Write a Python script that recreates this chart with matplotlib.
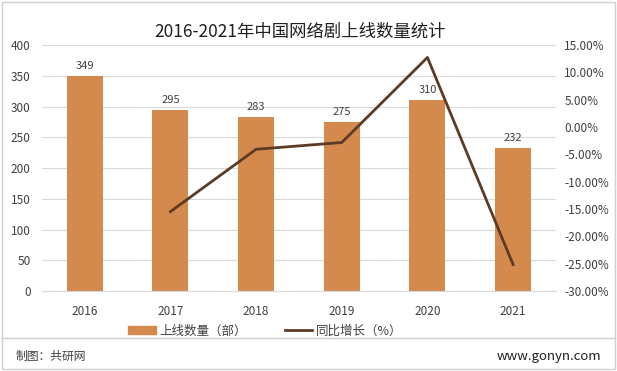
import numpy as np
import matplotlib.pyplot as plt
from matplotlib.ticker import FuncFormatter
from matplotlib.lines import Line2D
from matplotlib.patches import Rectangle

plt.rcParams['font.family'] = ['Noto Sans CJK SC', 'DejaVu Sans']

# data
years = ['2016', '2017', '2018', '2019', '2020', '2021']
counts = [349, 295, 283, 275, 310, 232]
growth_years = ['2017', '2018', '2019', '2020', '2021']
growth = [-15.47, -4.07, -2.83, 12.73, -25.16]

bar_color = '#D48A4C'
line_color = '#5C3B26'
text_color = '#404040'

fig = plt.figure(figsize=(6.17, 3.71), dpi=100)
ax = fig.add_axes([0.068, 0.2156, 0.833, 0.663])

x = np.arange(len(years))
ax.bar(x, counts, width=0.42, color=bar_color, zorder=2)
for xi, v in zip(x, counts):
    ax.text(xi, v + 8, str(v), ha='center', va='bottom', fontsize=8, color=text_color)

ax.set_ylim(0, 400)
ax.set_yticks(range(0, 401, 50))
ax.set_xlim(-0.5, len(years) - 0.5)
ax.set_xticks(x)
ax.set_xticklabels(years)
ax.grid(axis='y', color='#D9D9D9', linewidth=0.8, zorder=0)
ax.tick_params(axis='y', length=0, labelsize=8.5, colors=text_color, pad=8)
ax.tick_params(axis='x', length=0, labelsize=8.5, colors=text_color, pad=10)
for s in ax.spines.values():
    s.set_visible(False)
ax.spines['bottom'].set_visible(True)
ax.spines['bottom'].set_color('#D9D9D9')

ax2 = ax.twinx()
gx = [years.index(y) for y in growth_years]
ax2.plot(gx, growth, color=line_color, linewidth=2, zorder=3)
ax2.set_ylim(-30, 15)
ax2.set_yticks(range(-30, 16, 5))
ax2.yaxis.set_major_formatter(FuncFormatter(lambda v, p: f'{v:.2f}%'))
ax2.tick_params(length=0, labelsize=8.5, colors=text_color, pad=6)
for s in ax2.spines.values():
    s.set_visible(False)

fig.text(0.487, 0.915, '2016-2021年中国网络剧上线数量统计', ha='center', va='center',
         fontsize=12.5, color='#202020')

handles = [Rectangle((0, 0), 1, 1, color=bar_color),
           Line2D([], [], color=line_color, linewidth=2)]
fig.legend(handles, ['上线数量（部）', '同比增长（%）'], loc='center', ncol=2,
           bbox_to_anchor=(0.43, 0.108), frameon=False, fontsize=9,
           handlelength=2.2, handletextpad=0.3, columnspacing=3,
           labelcolor=text_color)

# frame and footer
fig.add_artist(Rectangle((0.003, 0.005), 0.994, 0.99, transform=fig.transFigure,
                         fill=False, edgecolor='#D0D0D0', linewidth=1))
fig.add_artist(Line2D([0.003, 0.997], [0.088, 0.088], transform=fig.transFigure,
                      color='#D0D0D0', linewidth=1))
fig.text(0.025, 0.04, '制图：共研网', fontsize=8.5, color=text_color, va='center')
fig.text(0.975, 0.04, 'www.gonyn.com', fontsize=9.5, color='#202020', va='center', ha='right')

fig.savefig('out.png', dpi=100)
